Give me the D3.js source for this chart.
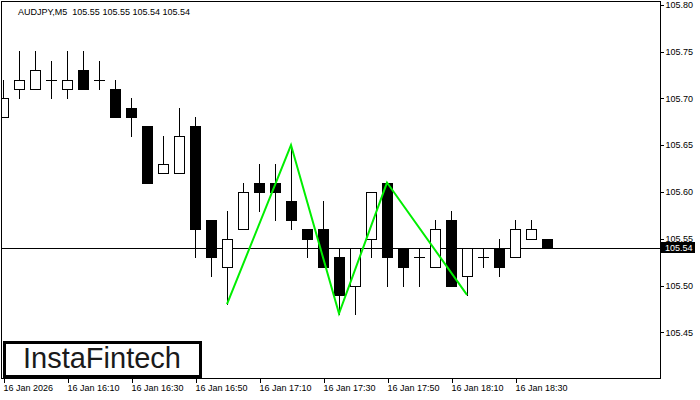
<!DOCTYPE html>
<html><head><meta charset="utf-8">
<script src="https://cdn.jsdelivr.net/npm/d3@7"></script>
<style>
html,body{margin:0;padding:0;background:#fff;}
svg{display:block;}
text{font-family:"Liberation Sans",Arial,sans-serif;}
</style></head>
<body>
<svg id="c" width="700" height="400"></svg>
<script>
const title = "AUDJPY,M5  105.55 105.55 105.54 105.54";
const opens  = [105.68,105.71,105.71,105.72,105.71,105.73,105.72,105.71,105.69,105.67,105.62,105.62,105.67,105.57,105.52,105.56,105.61,105.61,105.59,105.56,105.56,105.53,105.50,105.55,105.61,105.54,105.53,105.52,105.57,105.51,105.53,105.54,105.53,105.55,105.55];
const highs  = [105.72,105.75,105.75,105.74,105.75,105.75,105.74,105.72,105.70,105.67,105.66,105.69,105.68,105.57,105.58,105.61,105.63,105.63,105.65,105.56,105.59,105.54,105.54,105.60,105.61,105.54,105.54,105.57,105.58,105.54,105.54,105.55,105.57,105.57,105.55];
const lows   = [105.68,105.70,105.71,105.70,105.70,105.71,105.71,105.68,105.66,105.61,105.62,105.62,105.53,105.51,105.48,105.56,105.58,105.57,105.56,105.53,105.52,105.47,105.47,105.53,105.50,105.50,105.50,105.52,105.50,105.49,105.52,105.51,105.53,105.55,105.54];
const closes = [105.70,105.72,105.73,105.72,105.72,105.71,105.72,105.68,105.68,105.61,105.63,105.66,105.56,105.53,105.55,105.60,105.60,105.60,105.57,105.55,105.52,105.49,105.54,105.60,105.53,105.52,105.53,105.56,105.50,105.54,105.53,105.52,105.56,105.56,105.54];
const xTickIdx = [0,4,8,12,16,20,24,28,32];
const xTickLabels = ["16 Jan 2026","16 Jan 16:10","16 Jan 16:30","16 Jan 16:50","16 Jan 17:10","16 Jan 17:30","16 Jan 17:50","16 Jan 18:10","16 Jan 18:30"];
const yTicks = [105.45,105.50,105.55,105.60,105.65,105.70,105.75,105.80];
const patternIdx = [14,18,21,24,29];
const patternVals = [105.48,105.65,105.47,105.61,105.49];
const currentPrice = 105.54;
const logoText = "InstaFintech";

const svg = d3.select("#c");
const L = 2, R = 660, T = 2, B = 378;
const x = d3.scaleLinear().domain([0, 34]).range([3, 547]);
const y = d3.scaleLinear().domain([105.45, 105.80]).range([332.3, 4.7]);

svg.append("defs").append("clipPath").attr("id","pc")
  .append("rect").attr("x",L).attr("y",T).attr("width",R-L).attr("height",B-T);

const g = svg.append("g").attr("clip-path","url(#pc)").attr("shape-rendering","crispEdges");

// current price line
g.append("line").attr("x1",L).attr("x2",R)
  .attr("y1",Math.round(y(currentPrice))+0.5).attr("y2",Math.round(y(currentPrice))+0.5)
  .attr("stroke","#000").attr("stroke-width",1);

const data = opens.map((o,i)=>({i,o,h:highs[i],l:lows[i],c:closes[i]}));
const cg = g.selectAll("g.cd").data(data).join("g").attr("class","cd");
cg.append("line")
  .attr("x1",d=>Math.round(x(d.i))+0.5).attr("x2",d=>Math.round(x(d.i))+0.5)
  .attr("y1",d=>Math.round(y(d.h))).attr("y2",d=>Math.round(y(d.l))+1)
  .attr("stroke","#000");
cg.each(function(d){
  const s = d3.select(this);
  const cx = Math.round(x(d.i));
  const yt = Math.round(y(Math.max(d.o,d.c)));
  const yb = Math.round(y(Math.min(d.o,d.c)));
  if (yb - yt < 1) {
    s.append("line").attr("x1",cx-5).attr("x2",cx+6)
      .attr("y1",yt+0.5).attr("y2",yt+0.5).attr("stroke","#000");
  } else {
    s.append("rect").attr("x",cx-5+0.5).attr("y",yt+0.5)
      .attr("width",10).attr("height",yb-yt)
      .attr("fill", d.c < d.o ? "#000" : "#fff").attr("stroke","#000");
  }
});

// pattern line
g.append("path")
  .datum(patternIdx.map((k,j)=>[k,patternVals[j]]))
  .attr("d", d3.line().x(d=>x(d[0])).y(d=>y(d[1])))
  .attr("fill","none").attr("stroke","#00ee00").attr("stroke-width",2)
  .attr("shape-rendering","auto");

// frame
svg.append("rect").attr("x",L-0.5).attr("y",T-0.5).attr("width",R-L+1).attr("height",B-T+1)
  .attr("fill","none").attr("stroke","#000").attr("shape-rendering","crispEdges");

// right axis
const ya = svg.append("g").attr("transform",`translate(${R+0.5},0)`)
  .call(d3.axisRight(y).tickValues(yTicks).tickSize(3).tickFormat(d3.format(".2f")));
ya.select(".domain").remove();
ya.selectAll("line").attr("stroke","#000").attr("shape-rendering","crispEdges");
ya.selectAll("text").attr("x",5).attr("font-size","9px").attr("fill","#000")
  .attr("font-family","Liberation Sans, Arial, sans-serif");

// price label
const py = y(currentPrice);
svg.append("rect").attr("x",661).attr("y",Math.round(py)-6).attr("width",34).attr("height",11).attr("fill","#000");
svg.append("text").attr("x",665).attr("y",py).attr("dy","0.35em")
  .attr("font-size","9px").attr("fill","#fff").text(d3.format(".2f")(currentPrice));

// bottom axis
const xa = svg.append("g").attr("transform",`translate(0,${B+0.5})`)
  .call(d3.axisBottom(x).tickValues(xTickIdx).tickSize(4).tickFormat((d,k)=>xTickLabels[k]));
xa.select(".domain").remove();
xa.selectAll("line").attr("stroke","#000").attr("shape-rendering","crispEdges")
  .attr("transform","translate(0.5,0)");
xa.selectAll("text").attr("text-anchor","start").attr("x",0).attr("y",6)
  .attr("dy","0.71em").attr("font-size","9px").attr("fill","#000")
  .attr("font-family","Liberation Sans, Arial, sans-serif");

// title
svg.append("text").attr("x",18).attr("y",15).attr("font-size","9px")
  .style("white-space","pre").attr("fill","#000").text(title);

// logo
svg.append("rect").attr("x",4.5).attr("y",342.5).attr("width",196).attr("height",34)
  .attr("fill","#fff").attr("stroke","#000").attr("stroke-width",3);
const lt = svg.append("text").attr("x",102).attr("y",368).attr("text-anchor","middle")
  .attr("font-family","Inter, 'Noto Sans', sans-serif").attr("font-weight",500)
  .attr("font-size","26px").attr("fill","#1a1a1a").text(logoText);
const w = lt.node().getComputedTextLength();
lt.attr("font-size", (26*158/w).toFixed(2)+"px");
</script>
</body></html>
